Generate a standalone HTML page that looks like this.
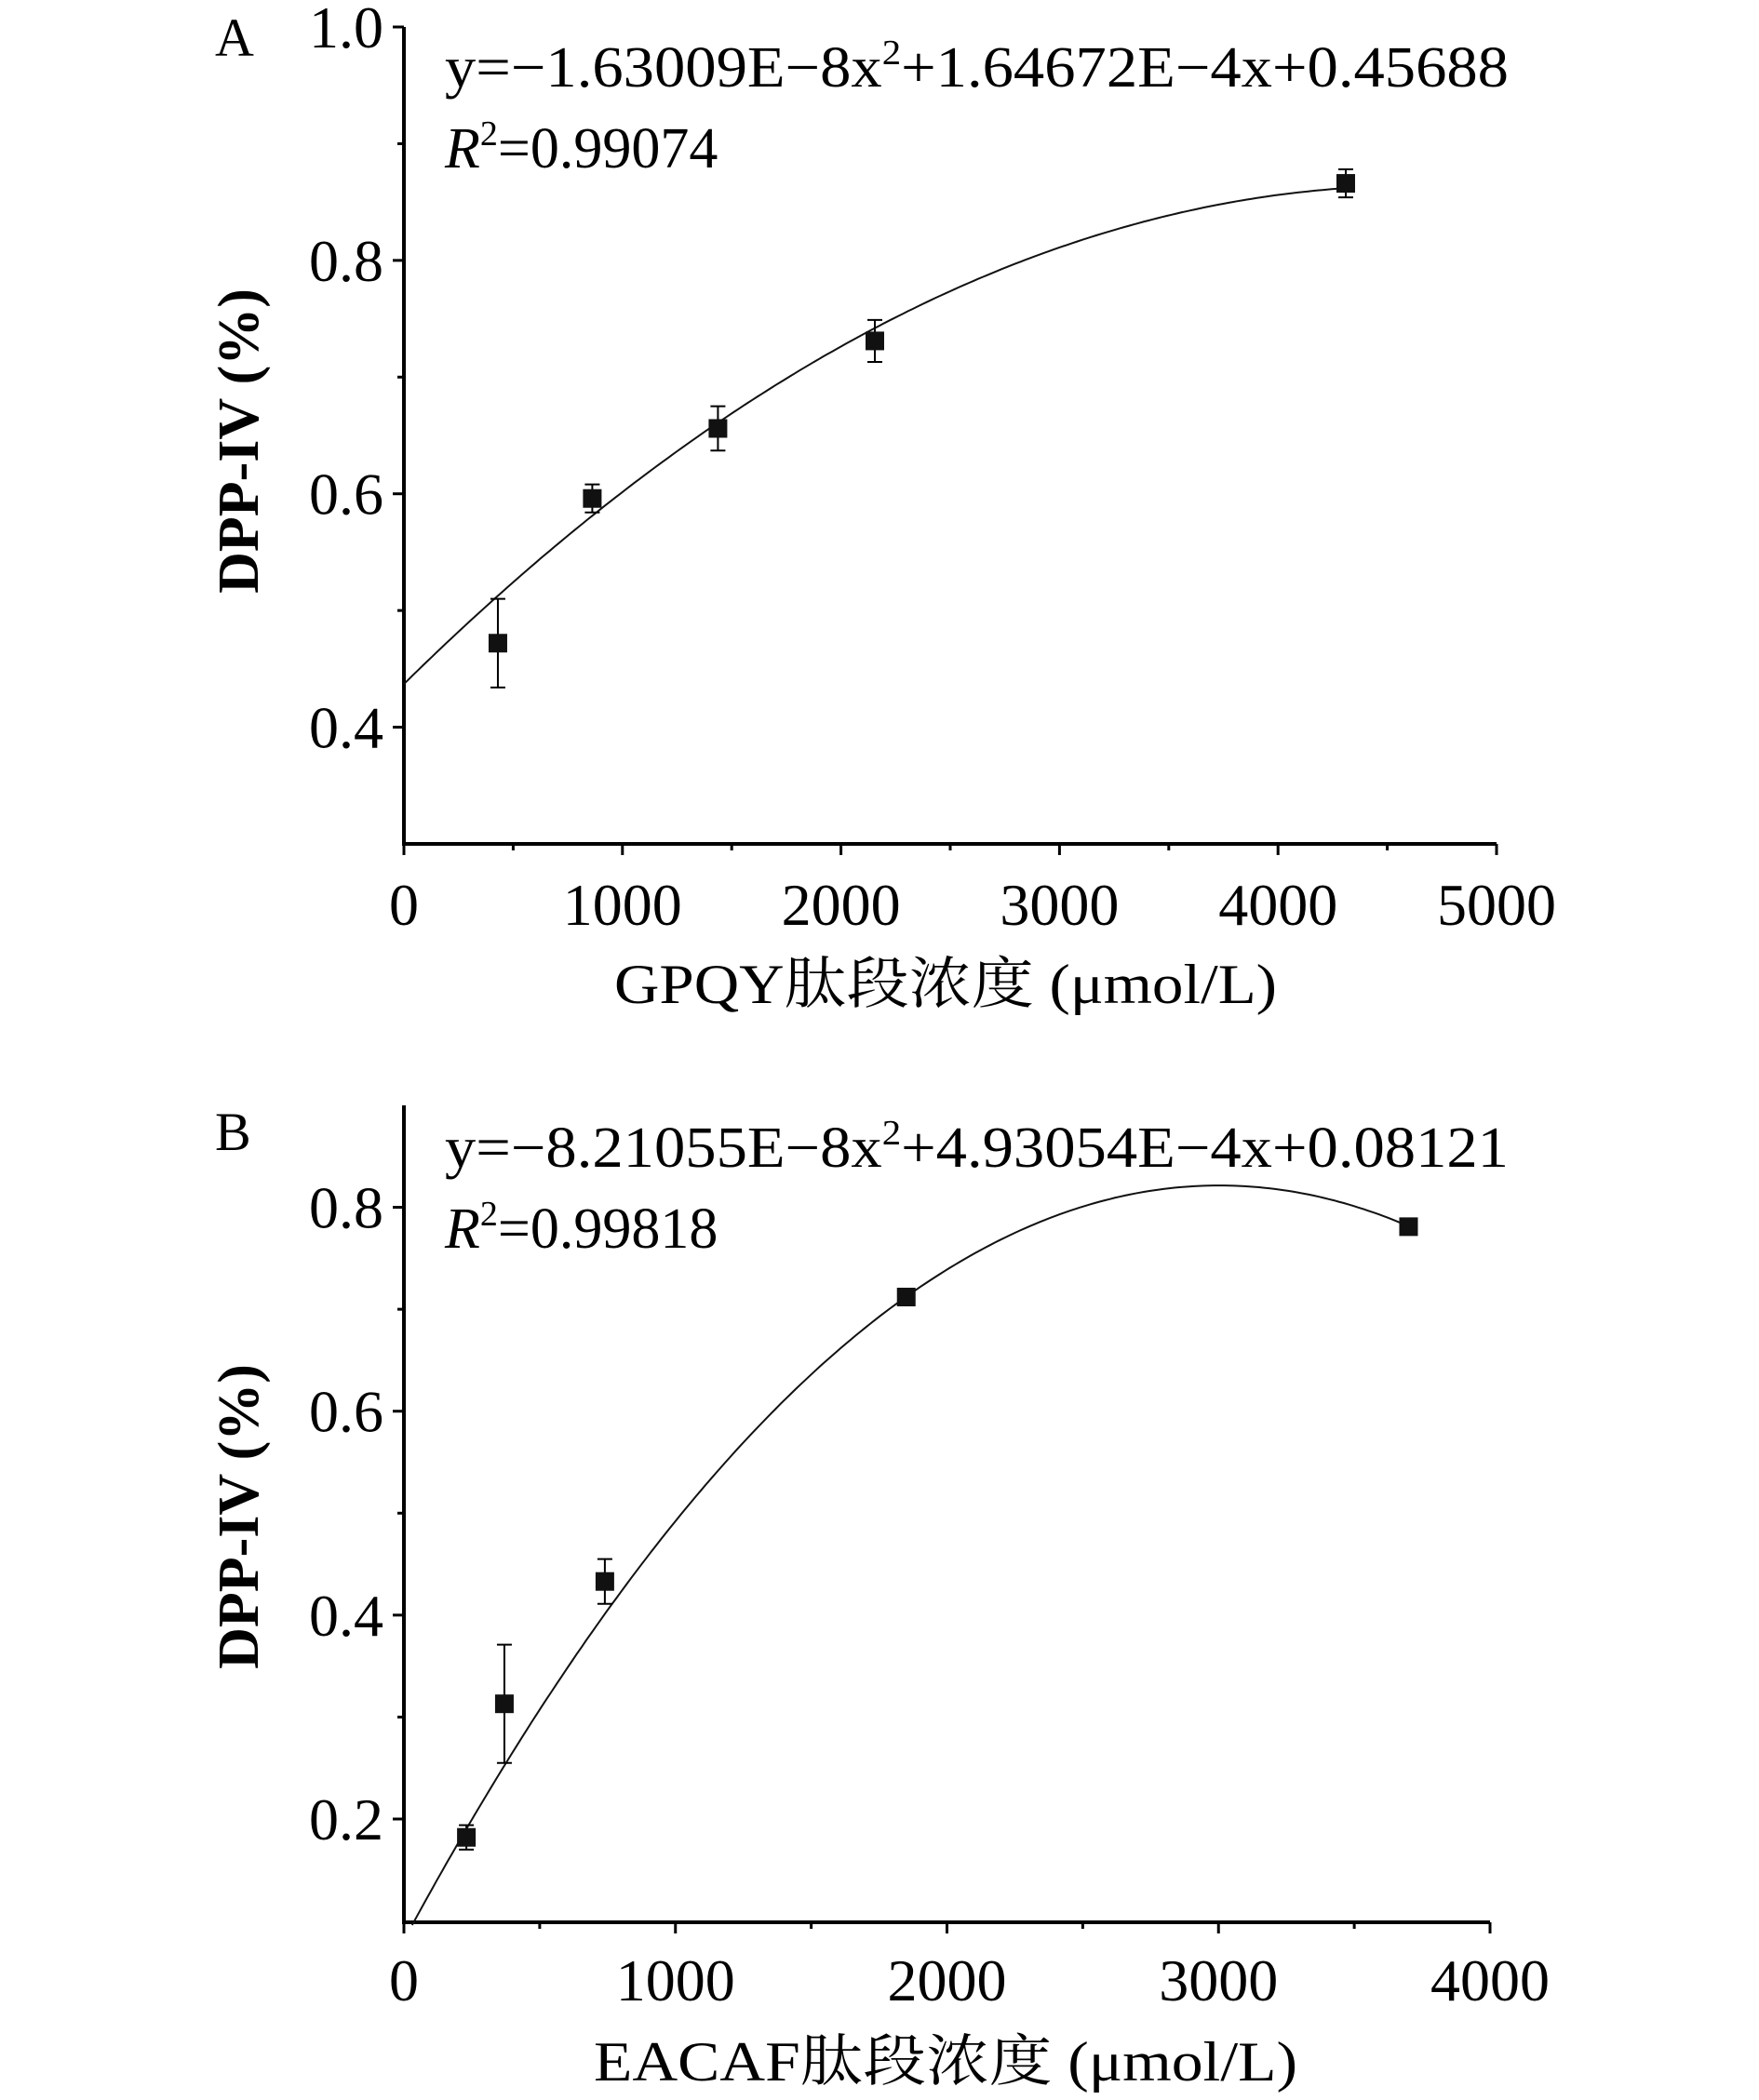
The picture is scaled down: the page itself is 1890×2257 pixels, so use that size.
<!DOCTYPE html>
<html><head><meta charset="utf-8"><style>
html,body{margin:0;padding:0;background:#fff}
svg{display:block}
text{font-family:"Liberation Serif","Noto Serif CJK SC","Noto Sans CJK SC",serif;fill:#000}
</style></head><body>
<svg id="chart" width="1890" height="2257" viewBox="0 0 1890 2257" xmlns="http://www.w3.org/2000/svg"></svg>
<script>
const aX=[430,862,1437,2155,4310];
const aY=[0.472,0.596,0.656,0.731,0.866];
const aErr=[0.038,0.012,0.019,0.018,0.012];
const aCoef=[-1.992e-8,1.8445e-4,0.437];
const aXTicks=[0,1000,2000,3000,4000,5000];
const aYTicks=[0.4,0.6,0.8,1.0];
const bX=[230,370,740,1850,3700];
const bY=[0.182,0.313,0.433,0.712,0.781];
const bErr=[0.012,0.058,0.022,0.005,0.005];
const bCoef=[-8.21055e-8,4.93054e-4,0.08121];
const bXTicks=[0,1000,2000,3000,4000];
const bYTicks=[0.2,0.4,0.6,0.8];

const NS="http://www.w3.org/2000/svg";
const svg=document.getElementById('chart');
function mk(tag,attrs,parent,txt){const e=document.createElementNS(NS,tag);for(const k in attrs)e.setAttribute(k,attrs[k]);if(txt!==undefined)e.textContent=txt;(parent||svg).appendChild(e);return e;}

function panel(cfg){
  const g=mk('g',{});
  
  
  const sx=v=>cfg.x0+(v-cfg.xmin)/(cfg.xmax-cfg.xmin)*(cfg.x1-cfg.x0);
  const sy=v=>cfg.y0-(v-cfg.ymin)/(cfg.ymax-cfg.ymin)*(cfg.y0-cfg.y1);
  const ax=mk('path',{d:`M${cfg.x0},${cfg.y1} L${cfg.x0},${cfg.y0} L${cfg.x1},${cfg.y0}`,fill:'none',stroke:'#000','stroke-width':4},g);
  
  
  cfg.xt.forEach((t,i)=>{
    const x=sx(t);
    mk('line',{x1:x,y1:cfg.y0,x2:x,y2:cfg.y0+12,stroke:'#000','stroke-width':3},g);
    if(i<cfg.xt.length-1){const m=sx(t+(cfg.xt[1]-cfg.xt[0])/2);mk('line',{x1:m,y1:cfg.y0,x2:m,y2:cfg.y0+7,stroke:'#000','stroke-width':3},g);}
    const tl=mk('text',{x:x,y:cfg.xLabelY,'font-size':64,'text-anchor':'middle'},g,String(t));
    
    
  });
  cfg.yt.forEach(t=>{
    const y=sy(t);
    mk('line',{x1:cfg.x0-12,y1:y,x2:cfg.x0,y2:y,stroke:'#000','stroke-width':3},g);
    const tl=mk('text',{x:cfg.x0-22,y:y+22,'font-size':64,'text-anchor':'end'},g,t.toFixed(1));
    
    
  });
  cfg.ym.forEach(t=>{const y=sy(t);mk('line',{x1:cfg.x0-7,y1:y,x2:cfg.x0,y2:y,stroke:'#000','stroke-width':3},g);});
  let d='';
  for(let i=0;i<=200;i++){const v=cfg.cs+(cfg.ce-cfg.cs)*i/200;const yv=cfg.coef[0]*v*v+cfg.coef[1]*v+cfg.coef[2];d+=(i?'L':'M')+sx(v).toFixed(1)+','+sy(yv).toFixed(1);}
  const c=mk('path',{d:d,fill:'none',stroke:'#111','stroke-width':2},g);
  
  
  cfg.xs.forEach((xv,i)=>{
    const x=sx(xv),y=sy(cfg.ys[i]),e1=sy(cfg.ys[i]+cfg.err[i]),e2=sy(cfg.ys[i]-cfg.err[i]);
    const eb=mk('path',{d:`M${x},${e1} L${x},${e2} M${x-8},${e1} L${x+8},${e1} M${x-8},${e2} L${x+8},${e2}`,stroke:'#000','stroke-width':2,fill:'none'},g);
    
    
    const r=mk('rect',{x:x-10,y:y-10,width:20,height:20,fill:'#111'},g);
    
    
  });
  const pl=mk('text',{x:231,y:cfg.panelY,'font-size':58},g,cfg.panel);
  
  
  const eq=mk('text',{x:478,y:cfg.eqY,'font-size':62,textLength:1143,lengthAdjust:'spacingAndGlyphs'},g);
  
  
  eq.innerHTML=cfg.eq;
  const r2=mk('text',{x:478,y:cfg.eqY+87,'font-size':62},g);
  
  
  r2.innerHTML=`<tspan font-style="italic">R</tspan><tspan font-size="38" dy="-24">2</tspan><tspan dy="24">=${cfg.r2}</tspan>`;
  const yt=mk('text',{x:0,y:0,'font-size':62,'font-weight':'bold','text-anchor':'middle',transform:`translate(277,${cfg.ytY}) rotate(-90)`},g,'DPP-IV (%)');
  
  
  const xt=mk('text',{x:cfg.xtX,y:cfg.xtY,'font-size':60,textLength:cfg.xtW,lengthAdjust:'spacingAndGlyphs'},g,cfg.xTitle);
  
  
}
panel({name:'panel-a',panel:'A',x0:434,x1:1608,y0:907,y1:29,xmin:0,xmax:5000,ymin:0.3,ymax:1.0,
  xt:aXTicks,yt:aYTicks,ym:[0.5,0.7,0.9],coef:aCoef,cs:0,ce:4310,xs:aX,ys:aY,err:aErr,
  xLabelY:994,panelY:60,eqY:93,eq:'y=−1.63009E−8x<tspan font-size="38" dy="-24">2</tspan><tspan dy="24">+1.64672E−4x+0.45688</tspan>',r2:'0.99074',
  ytY:474,xTitle:'GPQY肽段浓度 (μmol/L)',xtX:660,xtY:1078,xtW:712});
panel({name:'panel-b',panel:'B',x0:434,x1:1601,y0:2066,y1:1188,xmin:0,xmax:4000,ymin:0.0987,ymax:0.9,
  xt:bXTicks,yt:bYTicks,ym:[0.3,0.5,0.7],coef:bCoef,cs:30,ce:3700,xs:bX,ys:bY,err:bErr,
  xLabelY:2150,panelY:1236,eqY:1254,eq:'y=−8.21055E−8x<tspan font-size="38" dy="-24">2</tspan><tspan dy="24">+4.93054E−4x+0.08121</tspan>',r2:'0.99818',
  ytY:1630,xTitle:'EACAF肽段浓度 (μmol/L)',xtX:638,xtY:2236,xtW:756});
</script>
</body></html>
